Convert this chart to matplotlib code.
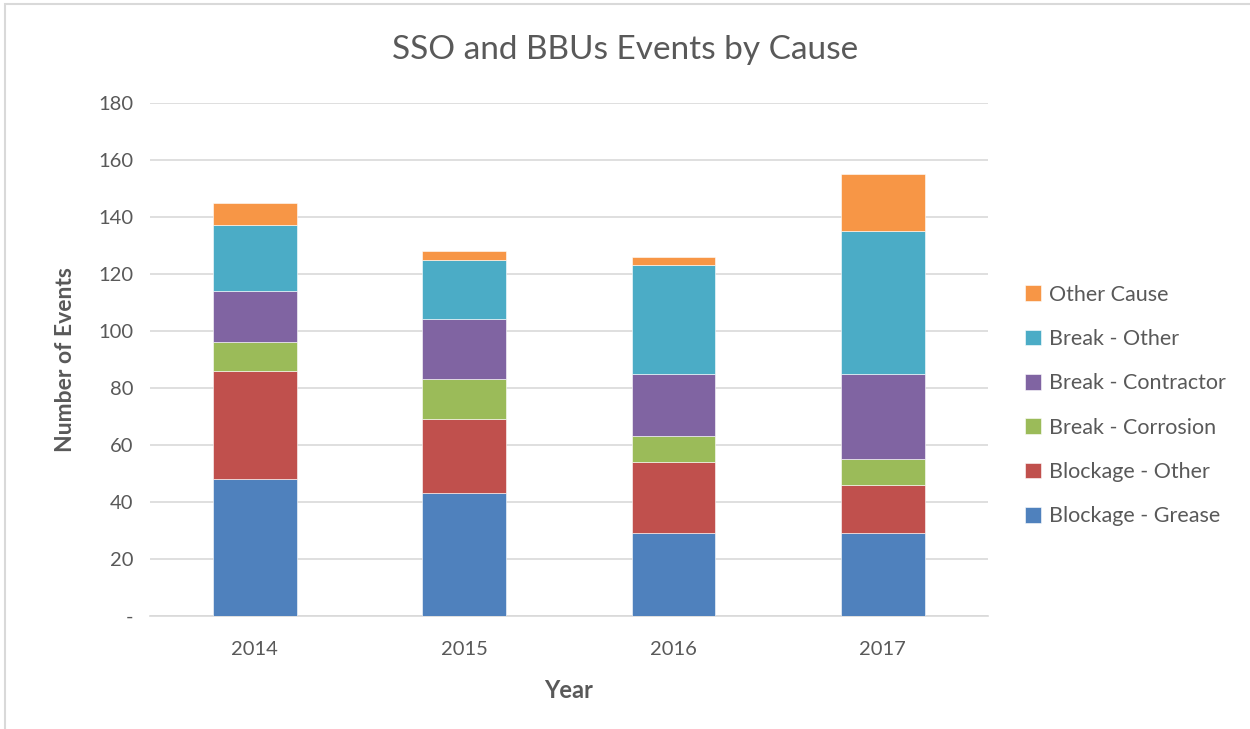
import numpy as np
import matplotlib.pyplot as plt
from matplotlib.patches import Rectangle

# --- DATA ---
years = ['2014', '2015', '2016', '2017']
blockage_grease = [48, 43, 29, 29]
blockage_other = [38, 26, 25, 17]
break_corrosion = [10, 14, 9, 9]
break_contractor = [18, 21, 22, 30]
break_other = [23, 21, 38, 50]
other_cause = [8, 3, 3, 20]

series = [
    ('Blockage - Grease', blockage_grease, '#4f81bd'),
    ('Blockage - Other', blockage_other, '#c0504d'),
    ('Break - Corrosion', break_corrosion, '#9bbb59'),
    ('Break - Contractor', break_contractor, '#8064a2'),
    ('Break - Other', break_other, '#4bacc6'),
    ('Other Cause', other_cause, '#f79646'),
]

plt.rcParams['font.family'] = ['Lato', 'DejaVu Sans']
TXT = '#595959'

fig = plt.figure(figsize=(12.5, 7.29), dpi=100)
ax = fig.add_axes([0.12, 0.155, 0.67, 0.704])

x = np.arange(len(years))
bottom = np.zeros(len(years))
handles = []
for name, vals, color in series:
    h = ax.bar(x, vals, width=0.4, bottom=bottom, color=color, label=name,
               edgecolor='white', linewidth=0.4, zorder=3)
    handles.append(h)
    bottom += np.array(vals)

ax.set_xlim(-0.5, len(years) - 0.5)
ax.set_ylim(0, 180)
ax.set_yticks(range(0, 181, 20))
ax.set_yticklabels(['-'] + [str(v) for v in range(20, 181, 20)])
ax.set_xticks(x)
ax.set_xticklabels(years)
ax.tick_params(length=0, labelsize=14.5, colors=TXT)
ax.tick_params(axis='x', pad=18)
ax.tick_params(axis='y', pad=12)
ax.grid(axis='y', color='#d9d9d9', linewidth=1.2, zorder=0)
for s in ['top', 'right', 'left']:
    ax.spines[s].set_visible(False)
ax.spines['bottom'].set_color('#d9d9d9')
ax.spines['bottom'].set_linewidth(1.2)

ax.set_xlabel('Year', fontsize=17, fontweight='bold', color=TXT, labelpad=15)
ax.set_ylabel('Number of Events', fontsize=16.5, fontweight='bold', color=TXT, labelpad=16)
fig.suptitle('SSO and BBUs Events by Cause', fontsize=24, color=TXT, y=0.952)

ax.legend(handles[::-1], [s[0] for s in series][::-1], loc='center left',
          bbox_to_anchor=(1.022, 0.41), frameon=False, fontsize=15.5,
          labelcolor=TXT, handlelength=0.75, handleheight=0.75,
          handletextpad=0.35, labelspacing=1.13)

# outer chart border
fig.patches.append(Rectangle((0.004, -0.01), 1.1, 1.004, transform=fig.transFigure,
                             fill=False, edgecolor='#d9d9d9', linewidth=1.5))

fig.savefig('out.png', dpi=100)
